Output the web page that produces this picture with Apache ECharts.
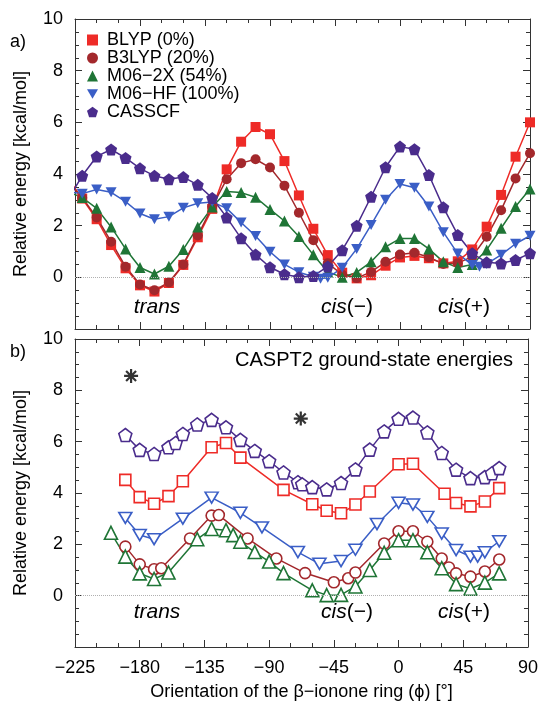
<!DOCTYPE html>
<html>
<head>
<meta charset="utf-8">
<script src="https://cdn.jsdelivr.net/npm/echarts@6/dist/echarts.min.js"></script>
<style>
html, body { margin: 0; padding: 0; background: #fff; }
#chart { width: 541px; height: 702px; }
</style>
</head>
<body>
<div id="chart"></div>
<script>
// panel a) ground-state scans, filled markers
const phiTop = [-230, -220, -210, -200, -190, -180, -170, -160, -150, -140, -130, -120, -110, -100, -90, -80, -70, -60, -50, -40, -30, -20, -10, 0, 10, 20, 30, 40, 50, 60, 70, 80, 90]
const blypTop = [3.85, 3.05, 2.25, 1.25, 0.35, -0.31, -0.55, -0.22, 0.48, 1.55, 2.65, 4.18, 5.25, 5.82, 5.54, 4.5, 3.17, 1.88, 0.86, 0.18, -0.04, 0.08, 0.45, 0.77, 0.83, 0.74, 0.54, 0.62, 1.08, 1.96, 3.19, 4.67, 6.0]
const b3lypTop = [3.7, 3.08, 2.32, 1.38, 0.41, -0.28, -0.5, -0.2, 0.5, 1.62, 2.74, 3.8, 4.42, 4.57, 4.25, 3.55, 2.5, 1.44, 0.55, 0.1, -0.03, 0.21, 0.6, 0.88, 0.95, 0.78, 0.52, 0.55, 0.8, 1.57, 2.6, 3.83, 4.8]
const m062xTop = [3.31, 3.09, 2.67, 1.95, 1.1, 0.38, 0.13, 0.43, 1.08, 1.95, 2.72, 3.32, 3.28, 3.1, 2.63, 2.18, 1.58, 0.87, 0.21, 0.0, 0.19, 0.6, 1.18, 1.5, 1.5, 1.1, 0.6, 0.38, 0.5, 1.06, 1.9, 2.74, 3.42]
const phiHfTop = [-230, -220, -210, -200, -190, -180, -170, -160, -150, -140, -130, -120, -110, -100, -90, -80, -70, -60, -55, -50, -40, -30, -20, -10, 0, 10, 20, 30, 40, 50, 55, 60, 70, 80, 90]
const m06hfTop = [3.32, 3.24, 3.4, 3.29, 2.93, 2.47, 2.25, 2.35, 2.69, 2.87, 2.92, 2.67, 2.12, 1.6, 0.99, 0.5, 0.2, 0.02, -0.05, -0.02, 0.37, 1.1, 2.03, 3.0, 3.61, 3.47, 2.74, 1.75, 0.92, 0.48, 0.41, 0.52, 0.87, 1.3, 1.61]
const casscfTop = [3.0, 3.93, 4.68, 4.95, 4.62, 4.22, 3.93, 3.8, 3.88, 3.58, 3.07, 2.32, 1.51, 0.88, 0.39, 0.12, 0.0, 0.05, 0.42, 1.05, 2.0, 3.12, 4.26, 5.06, 4.96, 3.96, 2.71, 1.64, 0.93, 0.58, 0.54, 0.67, 0.93]

// panel b) CASPT2 on top of each geometry, open markers
const phiBlypB = [-190, -180, -170, -160, -150, -130, -120, -110, -80, -60, -50, -40, -30, -20, 0, 10, 32, 40, 50, 60, 70]
const blypB = [4.51, 3.84, 3.58, 3.88, 4.46, 5.78, 5.95, 5.38, 4.12, 3.56, 3.31, 3.21, 3.55, 4.06, 5.12, 5.14, 3.97, 3.61, 3.48, 3.67, 4.19]
const phiB3lypB = [-190, -180, -170, -165, -145, -130, -125, -105, -85, -65, -45, -35, -30, -10, 0, 10, 20, 30, 35, 40, 50, 60, 70]
const b3lypB = [1.91, 1.22, 1.03, 1.07, 2.23, 3.12, 3.14, 2.23, 1.45, 0.88, 0.52, 0.68, 0.9, 2.03, 2.51, 2.51, 2.1, 1.45, 1.1, 0.87, 0.74, 0.94, 1.41]
const phiM062xB = [-200, -190, -180, -170, -160, -140, -130, -120, -115, -110, -100, -90, -80, -60, -50, -40, -30, -20, -10, 0, 10, 20, 30, 40, 50, 60, 70]
const m062xB = [2.45, 1.52, 0.87, 0.65, 0.9, 2.2, 2.6, 2.55, 2.36, 2.1, 1.7, 1.33, 0.88, 0.21, 0.02, 0.03, 0.36, 1.0, 1.67, 2.16, 2.16, 1.69, 1.07, 0.45, 0.27, 0.51, 0.87]
const phiHfB = [-190, -180, -170, -150, -130, -110, -95, -70, -55, -40, -30, -15, 0, 10, 20, 30, 40, 50, 55, 60, 70]
const m06hfB = [3.03, 2.36, 2.2, 3.0, 3.82, 3.23, 2.66, 1.7, 1.24, 1.35, 1.79, 2.79, 3.62, 3.55, 3.07, 2.42, 1.78, 1.52, 1.52, 1.69, 2.12]
const phiCasB = [-190, -180, -170, -160, -155, -150, -140, -130, -120, -110, -100, -90, -80, -70, -67, -60, -50, -40, -30, -20, -10, 0, 10, 20, 30, 40, 50, 60, 65, 70]
const casB = [6.26, 5.68, 5.52, 5.78, 5.95, 6.3, 6.67, 6.85, 6.56, 6.07, 5.64, 5.24, 4.8, 4.42, 4.34, 4.23, 4.14, 4.39, 4.92, 5.69, 6.4, 6.89, 6.94, 6.36, 5.56, 4.91, 4.58, 4.62, 4.77, 4.97]
const starPhi = [-186, -68]
const starE = [8.56, 6.9]

const names = ['BLYP (0%)', 'B3LYP (20%)', 'M06−2X (54%)', 'M06−HF (100%)', 'CASSCF']
const colors = ['#ee2b27', '#a3282c', '#1f7536', '#3a5ec6', '#4a2c8c']

const FONT = '"Liberation Sans", Arial, Helvetica, sans-serif'
const AX = '#333'
const PENT = 'path://M0,-1 L0.951,-0.309 L0.588,0.809 L-0.588,0.809 L-0.951,-0.309 Z'
const DOWN = 'path://M0,0 L2,0 L1,1.732 Z'
const STAR = 'path://M0,-1 L0,1 M-1,0 L1,0 M-0.71,-0.71 L0.71,0.71 M-0.71,0.71 L0.71,-0.71'
const symbols = ['rect', 'circle', 'triangle', DOWN, PENT]
const sizesTop = [10, 10, 11, [11, 10], 12]
const sizesBot = [11, 11, 13, [13, 11], 13]

function pairs(xs, ys) {
  return xs.map((x, i) => [x, ys[i]])
}

function xAx(grid, pos, labels) {
  return {
    type: 'value', gridIndex: grid, position: pos,
    min: -225, max: 90, interval: 45,
    name: labels ? 'Orientation of the β−ionone ring (ϕ) [°]' : '',
    nameLocation: 'middle', nameGap: 36,
    nameTextStyle: {fontSize: 18, color: '#000', fontFamily: FONT},
    axisLine: {show: true, onZero: false, lineStyle: {color: AX, width: 1}},
    axisTick: {show: true, inside: true, length: 7, lineStyle: {color: AX}},
    minorTick: {show: true, splitNumber: 3, length: 4, lineStyle: {color: AX}},
    splitLine: {show: false},
    axisLabel: {
      show: labels, margin: 12, fontSize: 18, color: '#000', fontFamily: FONT,
      formatter: v => String(v).replace('-', '−')
    }
  }
}

function yAx(grid, pos, labels) {
  return {
    type: 'value', gridIndex: grid, position: pos,
    min: -2, max: 10, interval: 2,
    name: labels ? 'Relative energy [kcal/mol]' : '',
    nameLocation: 'middle', nameGap: 45,
    nameTextStyle: {fontSize: 18, color: '#000', fontFamily: FONT},
    axisLine: {show: true, onZero: false, lineStyle: {color: AX, width: 1}},
    axisTick: {show: true, inside: true, length: 7, lineStyle: {color: AX}},
    minorTick: {show: true, splitNumber: 4, length: 4, lineStyle: {color: AX}},
    splitLine: {show: false},
    axisLabel: {
      show: labels, margin: 12, fontSize: 18, color: '#000', fontFamily: FONT,
      formatter: v => v < 0 ? '' : String(v)
    }
  }
}

const zeroLine = {
  silent: true, symbol: 'none', label: {show: false},
  lineStyle: {type: 'dotted', color: '#b0b0b0', width: 1},
  data: [{yAxis: 0}]
}

let series = []
const topData = [pairs(phiTop, blypTop), pairs(phiTop, b3lypTop), pairs(phiTop, m062xTop), pairs(phiHfTop, m06hfTop), pairs(phiTop, casscfTop)]
topData.forEach((d, i) => {
  series.push({
    name: names[i], type: 'line', xAxisIndex: 0, yAxisIndex: 0,
    data: d, symbol: symbols[i], symbolSize: sizesTop[i],
    lineStyle: {color: colors[i], width: 1.5},
    itemStyle: {color: colors[i]},
    markLine: i === 0 ? zeroLine : undefined
  })
})
const botData = [pairs(phiBlypB, blypB), pairs(phiB3lypB, b3lypB), pairs(phiM062xB, m062xB), pairs(phiHfB, m06hfB), pairs(phiCasB, casB)]
botData.forEach((d, i) => {
  series.push({
    name: 'pt2 ' + names[i], type: 'line', xAxisIndex: 2, yAxisIndex: 2,
    data: d, symbol: symbols[i], symbolSize: sizesBot[i],
    lineStyle: {color: colors[i], width: 1.5},
    itemStyle: {color: '#fff', borderColor: colors[i], borderWidth: 1.6},
    markLine: i === 0 ? zeroLine : undefined
  })
})
series.push({
  name: 'stars', type: 'scatter', xAxisIndex: 2, yAxisIndex: 2,
  data: pairs(starPhi, starE), symbol: STAR, symbolSize: 14,
  itemStyle: {color: '#000', borderColor: '#000', borderWidth: 2.2}
})

const it = {fontFamily: FONT, fontSize: 21, fontStyle: 'italic', fill: '#000'}
const up = {fontFamily: FONT, fontSize: 21, fill: '#000'}
function caseLabel(x, y, rich) {
  return {
    type: 'text', x: x, y: y,
    style: Object.assign({text: rich, align: 'center', verticalAlign: 'middle', rich: {i: it, n: up}}, up)
  }
}

let graphic = [
  {type: 'text', x: 10, y: 42, style: {text: 'a)', font: '18px ' + FONT, fill: '#000', verticalAlign: 'middle'}},
  {type: 'text', x: 10, y: 352, style: {text: 'b)', font: '18px ' + FONT, fill: '#000', verticalAlign: 'middle'}},
  {type: 'text', x: 513, y: 360, style: {text: 'CASPT2 ground-state energies', font: '20px ' + FONT, fill: '#000', align: 'right', verticalAlign: 'middle'}}
]
;[307, 612].forEach(y => {
  graphic.push(caseLabel(157, y, '{i|trans}'))
  graphic.push(caseLabel(347, y, '{i|cis}{n|(−)}'))
  graphic.push(caseLabel(464, y, '{i|cis}{n|(+)}'))
})

let chart = echarts.init(document.getElementById('chart'))
chart.setOption({
  animation: false,
  backgroundColor: '#fff',
  textStyle: {fontFamily: FONT},
  grid: [
    {left: 75, right: 11, top: 19, height: 310},
    {left: 75, right: 11, top: 339, height: 309}
  ],
  xAxis: [xAx(0, 'bottom', false), xAx(0, 'top', false), xAx(1, 'bottom', true), xAx(1, 'top', false)],
  yAxis: [yAx(0, 'left', true), yAx(0, 'right', false), yAx(1, 'left', true), yAx(1, 'right', false)],
  legend: {
    left: 82, top: 26, orient: 'vertical',
    itemWidth: 11, itemHeight: 11, itemGap: 0,
    textStyle: {fontSize: 18, color: '#000', fontFamily: FONT, lineHeight: 18, padding: [0, 0, 0, 4]},
    data: names.map((n, i) => ({name: n, icon: symbols[i]}))
  },
  graphic: graphic,
  series: series
})
</script>
</body>
</html>
